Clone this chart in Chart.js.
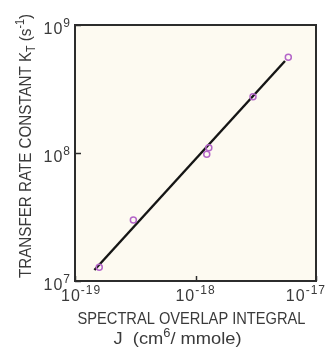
<!DOCTYPE html>
<html><head><meta charset="utf-8">
<script src="https://cdn.jsdelivr.net/npm/chart.js@4/dist/chart.umd.min.js"></script>
<style>html,body{margin:0;padding:0;background:#fff}#wrap{width:330px;height:350px}</style>
</head><body><div id="wrap"><canvas id="c" width="330" height="350"></canvas></div>
<script>
// ---- data ----
const overlapJ = [1.59e-19, 3.05e-19, 1.24e-18, 1.29e-18, 3.0e-18, 5.89e-18];
const rateKT   = [1.28e7, 3.0e7, 9.77e7, 1.10e8, 2.75e8, 5.6e8];
const fitJ  = [1.45e-19, 5.53e-18];
const fitKT = [1.22e7, 5.23e8];
const xTickValues = [1e-19, 1e-18, 1e-17];
const xTickLabels = ['10^-19', '10^-18', '10^-17'];
const yTickValues = [1e7, 1e8, 1e9];
const yTickLabels = ['10^7', '10^8', '10^9'];
const xTitleLine1 = 'SPECTRAL OVERLAP INTEGRAL';
const xTitleLine2 = [['J  (cm', 'n'], ['6', 'sup'], ['/ mmole)', 'n']];
const yTitle = [['TRANSFER RATE CONSTANT K', 'n'], ['T', 'sub'], [' (s', 'n'], ['-1', 'sup'], [')', 'n']];

// ---- styles ----
const plotBg = '#fdfaf1';
const ink = '#3a3a3a';
const markerColor = '#b466c8';
const FONT = '"Liberation Sans", Arial, sans-serif';

function segFont(s){ return s + 'px ' + FONT; }
function toSegs(parts, base, small, supDy, subDy){
  return parts.map(([t,k]) => k==='sup' ? {t, s:small, dy:-supDy} : k==='sub' ? {t, s:small, dy:subDy} : {t, s:base, dy:0});
}
function measureRich(ctx, segs, ls){
  let w = 0;
  for (const g of segs){ ctx.font = segFont(g.s); ctx.letterSpacing = ls + 'px'; w += ctx.measureText(g.t).width; }
  return w;
}
function drawRich(ctx, segs, x, y, align, stretch, ls){
  const w = measureRich(ctx, segs, ls) * stretch;
  const start = align === 'center' ? x - w/2 : align === 'right' ? x - w : x;
  ctx.save();
  ctx.translate(start, y); ctx.scale(stretch, 1);
  ctx.textBaseline = 'alphabetic'; ctx.textAlign = 'left'; ctx.fillStyle = ink;
  let cx = 0;
  for (const g of segs){
    ctx.font = segFont(g.s); ctx.letterSpacing = ls + 'px';
    ctx.fillText(g.t, cx, g.dy);
    cx += ctx.measureText(g.t).width;
  }
  ctx.restore();
  return w;
}
function tickSegs(lbl){
  const [b, e] = lbl.split('^');
  return [{t:b, s:16, dy:0}, {t:e, s:12, dy:-7}];
}

const decor = {
  id: 'decor',
  beforeDraw(chart){
    const {ctx, chartArea:a} = chart;
    ctx.save();
    ctx.fillStyle = '#ffffff'; ctx.fillRect(0, 0, chart.width, chart.height);
    ctx.fillStyle = plotBg; ctx.fillRect(a.left, a.top, a.right - a.left, a.bottom - a.top);
    ctx.restore();
  },
  afterDraw(chart){
    const {ctx, chartArea:a, scales} = chart;
    ctx.save();
    // frame
    ctx.strokeStyle = '#2c2c2c'; ctx.lineWidth = 2;
    ctx.strokeRect(a.left, a.top, a.right - a.left, a.bottom - a.top);
    // inward ticks
    ctx.lineWidth = 1.5;
    yTickValues.forEach(v => {
      const py = Math.round(scales.y.getPixelForValue(v)) + 0.5;
      ctx.beginPath(); ctx.moveTo(a.left, py); ctx.lineTo(a.left + 6, py); ctx.stroke();
    });
    xTickValues.forEach(v => {
      const px = Math.round(scales.x.getPixelForValue(v)) + 0.5;
      ctx.beginPath(); ctx.moveTo(px, a.bottom); ctx.lineTo(px, a.bottom - 5); ctx.stroke();
    });
    // y tick labels
    yTickValues.forEach((v, i) => {
      const py = scales.y.getPixelForValue(v);
      drawRich(ctx, tickSegs(yTickLabels[i]), a.left - 4, py + 9, 'right', 1, 1);
    });
    // x tick labels (kept inside the canvas)
    xTickValues.forEach((v, i) => {
      const px = scales.x.getPixelForValue(v);
      const segs = tickSegs(xTickLabels[i]);
      const w = measureRich(ctx, segs, 1);
      let left = px - w/2;
      left = Math.max(a.left - 14, Math.min(left, chart.width - 4 - w));
      drawRich(ctx, segs, left, a.bottom + 20, 'left', 1, 1);
    });
    // x title
    const s1 = [{t:xTitleLine1, s:17, dy:0}];
    drawRich(ctx, s1, (a.left + a.right)/2 - 4, a.bottom + 43, 'center', 228 / measureRich(ctx, s1, 0), 0);
    const s2 = toSegs(xTitleLine2, 17, 12, 7, 4);
    drawRich(ctx, s2, (a.left + a.right)/2 - 18, a.bottom + 63, 'center', 128 / measureRich(ctx, s2, 0), 0);
    // y title (rotated)
    const ys = toSegs(yTitle, 17, 12, 7, 4);
    const ystretch = 264 / measureRich(ctx, ys, 0);
    ctx.save();
    ctx.translate(a.left - 44, (a.top + a.bottom)/2 - 7);
    ctx.rotate(-Math.PI/2);
    drawRich(ctx, ys, 0, 0, 'center', ystretch, 0);
    ctx.restore();
    ctx.restore();
  }
};

new Chart(document.getElementById('c').getContext('2d'), {
  type: 'scatter',
  data: { datasets: [
    { label: 'measured', data: overlapJ.map((x, i) => ({x, y: rateKT[i]})),
      pointStyle: 'circle', pointRadius: 3, pointBorderWidth: 1.5,
      borderColor: markerColor, backgroundColor: 'rgba(0,0,0,0)', showLine: false, order: 0 },
    { label: 'fit', data: fitJ.map((x, i) => ({x, y: fitKT[i]})),
      showLine: true, borderColor: '#151515', borderWidth: 2.4, pointRadius: 0, order: 1 }
  ]},
  options: {
    responsive: false, animation: false, devicePixelRatio: 1,
    layout: { padding: { top: 25, right: 14, left: 0, bottom: 0 } },
    plugins: { legend: { display: false }, tooltip: { enabled: false } },
    scales: {
      x: { type: 'logarithmic', min: 1e-19, max: 1e-17,
           grid: { display: false }, border: { display: false }, ticks: { display: false },
           afterBuildTicks(s){ s.ticks = xTickValues.map(v => ({value: v})); },
           afterFit(s){ s.height = 69; } },
      y: { type: 'logarithmic', min: 1e7, max: 1e9,
           grid: { display: false }, border: { display: false }, ticks: { display: false },
           afterBuildTicks(s){ s.ticks = yTickValues.map(v => ({value: v})); },
           afterFit(s){ s.width = 75; } }
    }
  },
  plugins: [decor]
});
</script>
</body></html>
